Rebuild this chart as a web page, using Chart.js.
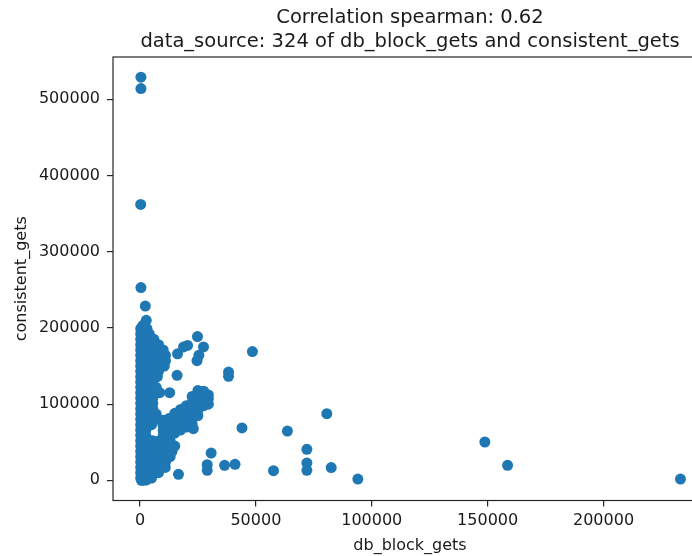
<!DOCTYPE html>
<html>
<head>
<meta charset="utf-8">
<script src="https://cdn.jsdelivr.net/npm/chart.js@4.4.0/dist/chart.umd.min.js"></script>
<style>
    html, body { margin: 0; padding: 0; background: #fff; overflow: hidden; width: 692px; height: 556px; }
    canvas { display: block; }
</style>
</head>
<body>
<canvas id="scatterChart" width="720" height="556"></canvas>
<script>
const titleLines = [
    'Correlation spearman: 0.62',
    'data_source: 324 of db_block_gets and consistent_gets'
];
const xLabel = 'db_block_gets';
const yLabel = 'consistent_gets';
const xTicks = [0, 50000, 100000, 150000, 200000];
const yTicks = [0, 100000, 200000, 300000, 400000, 500000];

// db_block_gets of each point
const dbBlockGets = [
    400, 400, 300, 400, 2300, 2700, 1200,
    300, 1500, 3000,
    300, 2000, 4000,
    300, 2000, 4500, 6000,
    300, 2500, 5000, 8000,
    300, 2500, 5000, 8000, 10000,
    300, 2500, 5500, 8500, 11000,
    300, 2500, 5500, 8500, 11000,
    300, 2500, 5500, 8500, 10500,
    300, 2500, 5000, 8000,
    300, 2500, 5000, 7500,
    300, 2500, 4500,
    300, 2500, 5000, 7000,
    300, 2500, 5500, 8500,
    300, 2500, 5500,
    300, 2500, 5500,
    300, 2500, 5500,
    300, 2500, 5500, 7000,
    300, 2500, 5500, 7500,
    300, 2500, 5000,
    300, 2500,
    300, 2500,
    300, 2500, 5500, 8500, 11000, 13000,
    300, 2500, 5500, 8500, 11000, 13500, 15000,
    300, 2500, 5500, 8500, 11000, 13800,
    300, 2500, 5500, 8500, 11000, 13000,
    300, 2500, 5500, 8500, 11000,
    300, 2500, 5500, 8500, 10900,
    300, 2500, 5000, 8000,
    300, 2500, 5000,
    600, 2800, 1500,
    10000, 10000, 10000, 10000,
    12500, 12500, 12500, 12500,
    15000, 15000, 15000, 15000, 15000,
    17500, 17500, 17500, 17500, 17500,
    20000, 20000, 20000, 20000, 20000,
    22500, 22500, 22500, 22500, 22500, 22500,
    25000, 25000, 25000, 25000, 25000, 25000,
    27500, 27500, 27500, 27500,
    29500, 29500, 29500,
    23000,
    16200, 18800, 20500, 24800, 27400, 24600, 25400, 16000, 12800,
    38200, 38200, 48500,
    44000, 63600, 80600, 72000, 72000, 72000, 82500, 57600, 30700,
    29000, 29000, 36500, 41000, 16600, 94000, 148800, 158600, 233200
];

// consistent_gets of each point, same order
const consistentGets = [
    529000, 514000, 362000, 253000, 228700, 210000, 203000,
    199000, 199000, 199000,
    192000, 192000, 192000,
    185000, 185000, 185000, 185000,
    178000, 178000, 178000, 178000,
    171000, 171000, 171000, 171000, 171000,
    164000, 164000, 164000, 164000, 164000,
    157000, 157000, 157000, 157000, 157000,
    150000, 150000, 150000, 150000, 150000,
    143000, 143000, 143000, 143000,
    136000, 136000, 136000, 136000,
    129000, 129000, 129000,
    122000, 122000, 122000, 122000,
    115000, 115000, 115000, 115000,
    108000, 108000, 108000,
    101000, 101000, 101000,
    94000, 94000, 94000,
    87000, 87000, 87000, 87000,
    80000, 80000, 80000, 80000,
    73000, 73000, 73000,
    66000, 66000,
    59000, 59000,
    52000, 52000, 52000, 52000, 52000, 52000,
    45000, 45000, 45000, 45000, 45000, 45000, 45000,
    38000, 38000, 38000, 38000, 38000, 38000,
    31000, 31000, 31000, 31000, 31000, 31000,
    24000, 24000, 24000, 24000, 24000,
    17000, 17000, 17000, 17000, 17000,
    10000, 10000, 10000, 10000,
    3000, 3000, 3000,
    0, 500, 0,
    58000, 65000, 72000, 79000,
    60000, 67000, 74000, 81000,
    62000, 69000, 76000, 83000, 88000,
    66000, 73000, 80000, 87000, 93000,
    70000, 77000, 84000, 91000, 98000,
    74000, 81000, 88000, 95000, 102000, 110000,
    85000, 92000, 99000, 106000, 113000, 118000,
    98000, 105000, 112000, 117000,
    100000, 107000, 112000,
    67800,
    166000, 175000, 177000, 188600, 175000, 157000, 164000, 137800, 115000,
    142000, 136500, 169000,
    68700, 64700, 87500, 40700, 22800, 13100, 16700, 12700, 35800,
    20600, 13100, 19700, 21000, 7900, 1700, 50300, 19700, 1700
];

const points = dbBlockGets.map((x, i) => ({ x: x, y: consistentGets[i] }));

const textColor = '#1a1a1a';
const lineColor = '#262626';
const fontFamily = '"DejaVu Sans", sans-serif';

// matplotlib style: title centred over the axes, full frame around them
const titleAndFrame = {
    id: 'titleAndFrame',
    afterDraw(chart) {
        const { ctx, chartArea } = chart;
        ctx.save();
        ctx.strokeStyle = lineColor;
        ctx.lineWidth = 1.2;
        ctx.strokeRect(chartArea.left, chartArea.top, chartArea.right - chartArea.left, chartArea.bottom - chartArea.top);
        ctx.fillStyle = textColor;
        ctx.font = '19.5px ' + fontFamily;
        ctx.textAlign = 'center';
        ctx.textBaseline = 'alphabetic';
        const cx = (chartArea.left + chartArea.right) / 2;
        titleLines.forEach((line, i) => {
            ctx.fillText(line, cx, chartArea.top - 33.6 + i * 23.4);
        });
        ctx.restore();
    }
};

const ctx = document.getElementById('scatterChart');
new Chart(ctx, {
    type: 'scatter',
    data: {
        datasets: [{
            data: points,
            pointRadius: 5.5,
            pointHoverRadius: 5.5,
            pointBackgroundColor: '#1f77b4',
            pointBorderWidth: 0,
            borderWidth: 0
        }]
    },
    options: {
        responsive: false,
        animation: false,
        layout: { padding: { top: 57, right: 13, bottom: 0, left: 0 } },
        plugins: {
            legend: { display: false },
            tooltip: { enabled: false }
        },
        scales: {
            x: {
                type: 'linear',
                position: 'bottom',
                min: -11650,
                max: 244650,
                afterBuildTicks: axis => { axis.ticks = xTicks.map(v => ({ value: v })); },
                afterFit: scale => { scale.height = 55.5; },
                border: { display: false },
                grid: { drawOnChartArea: false, drawTicks: true, tickLength: 6, color: lineColor, lineWidth: 1.2 },
                ticks: {
                    color: textColor,
                    font: { family: fontFamily, size: 16 },
                    padding: 5,
                    maxRotation: 0,
                    callback: v => String(v)
                },
                title: {
                    display: true,
                    text: xLabel,
                    color: textColor,
                    font: { family: fontFamily, size: 16 },
                    padding: { top: 0, bottom: 1 }
                }
            },
            y: {
                type: 'linear',
                min: -26450,
                max: 555450,
                afterBuildTicks: axis => { axis.ticks = yTicks.map(v => ({ value: v })); },
                afterFit: scale => { scale.width = 113; },
                border: { display: false },
                grid: { drawOnChartArea: false, drawTicks: true, tickLength: 6, color: lineColor, lineWidth: 1.2 },
                ticks: {
                    color: textColor,
                    font: { family: fontFamily, size: 16 },
                    padding: 7,
                    callback: v => String(v)
                },
                title: {
                    display: true,
                    text: yLabel,
                    color: textColor,
                    font: { family: fontFamily, size: 16 },
                    padding: { top: 12, bottom: 0 }
                }
            }
        }
    },
    plugins: [titleAndFrame]
});
</script>
</body>
</html>
